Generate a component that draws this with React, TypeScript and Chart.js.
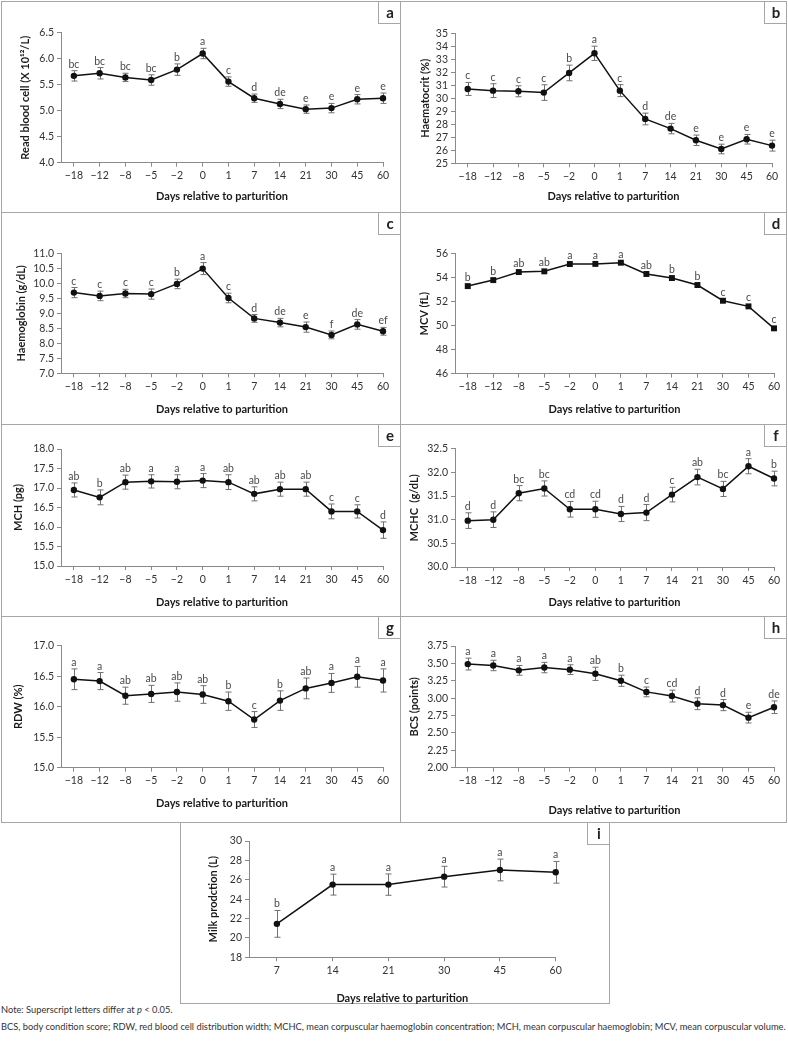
import React, { useEffect, useRef } from 'react';
import { Chart, registerables } from 'chart.js';
Chart.register(...registerables);

// ---------- DATA ----------
const days = ['−18', '−12', '−8', '−5', '−2', '0', '1', '7', '14', '21', '30', '45', '60'];
const milkDays = ['7', '14', '21', '30', '45', '60'];

const rbcMean = [5.67, 5.72, 5.64, 5.59, 5.79, 6.10, 5.56, 5.24, 5.13, 5.03, 5.05, 5.22, 5.24];
const rbcSem = [0.10, 0.11, 0.08, 0.10, 0.11, 0.10, 0.09, 0.08, 0.09, 0.08, 0.09, 0.09, 0.10];
const rbcLetters = ['bc', 'bc', 'bc', 'bc', 'b', 'a', 'c', 'd', 'de', 'e', 'e', 'e', 'e'];

const hctMean = [30.72, 30.59, 30.54, 30.44, 31.95, 33.46, 30.59, 28.41, 27.67, 26.77, 26.10, 26.85, 26.36];
const hctSem = [0.50, 0.53, 0.42, 0.60, 0.60, 0.55, 0.46, 0.45, 0.40, 0.40, 0.37, 0.37, 0.42];
const hctLetters = ['c', 'c', 'c', 'c', 'b', 'a', 'c', 'd', 'de', 'e', 'e', 'e', 'e'];

const hbMean = [9.69, 9.58, 9.66, 9.64, 9.98, 10.49, 9.51, 8.83, 8.69, 8.54, 8.28, 8.63, 8.40];
const hbSem = [0.17, 0.16, 0.14, 0.17, 0.16, 0.20, 0.16, 0.13, 0.14, 0.17, 0.13, 0.16, 0.13];
const hbLetters = ['c', 'c', 'c', 'c', 'b', 'a', 'c', 'd', 'de', 'e', 'f', 'de', 'ef'];

const mcvMean = [53.30, 53.80, 54.47, 54.53, 55.14, 55.15, 55.25, 54.31, 53.97, 53.39, 52.08, 51.61, 49.78];
const mcvLetters = ['b', 'b', 'ab', 'ab', 'a', 'a', 'a', 'ab', 'b', 'b', 'c', 'c', 'c'];

const mchMean = [16.95, 16.76, 17.15, 17.17, 17.16, 17.19, 17.15, 16.85, 16.97, 16.97, 16.40, 16.40, 15.92];
const mchSem = [0.18, 0.19, 0.18, 0.17, 0.18, 0.18, 0.19, 0.18, 0.18, 0.18, 0.19, 0.17, 0.21];
const mchLetters = ['ab', 'b', 'ab', 'a', 'a', 'a', 'ab', 'ab', 'ab', 'ab', 'c', 'c', 'd'];

const mchcMean = [30.98, 31.00, 31.56, 31.66, 31.22, 31.22, 31.12, 31.15, 31.53, 31.90, 31.65, 32.13, 31.87];
const mchcSem = [0.165, 0.165, 0.16, 0.16, 0.165, 0.17, 0.16, 0.17, 0.155, 0.165, 0.16, 0.16, 0.155];
const mchcLetters = ['d', 'd', 'bc', 'bc', 'cd', 'cd', 'd', 'd', 'c', 'ab', 'bc', 'a', 'b'];

const rdwMean = [16.45, 16.42, 16.18, 16.21, 16.24, 16.20, 16.09, 15.79, 16.10, 16.30, 16.39, 16.49, 16.43];
const rdwSem = [0.17, 0.14, 0.14, 0.14, 0.15, 0.145, 0.15, 0.13, 0.16, 0.17, 0.155, 0.17, 0.19];
const rdwLetters = ['a', 'a', 'ab', 'ab', 'ab', 'ab', 'b', 'c', 'b', 'ab', 'a', 'a', 'a'];

const bcsMean = [3.49, 3.47, 3.40, 3.44, 3.41, 3.35, 3.25, 3.09, 3.03, 2.92, 2.90, 2.72, 2.87];
const bcsSem = [0.085, 0.075, 0.07, 0.075, 0.07, 0.095, 0.08, 0.07, 0.085, 0.085, 0.08, 0.077, 0.09];
const bcsLetters = ['a', 'a', 'a', 'a', 'a', 'ab', 'b', 'c', 'cd', 'd', 'd', 'e', 'de'];

const milkMean = [21.45, 25.50, 25.50, 26.32, 27.01, 26.77];
const milkSem = [1.38, 1.08, 1.10, 1.07, 1.12, 1.12];
const milkLetters = ['b', 'a', 'a', 'a', 'a', 'a'];

// ---------- LAYOUT ----------
const FONT = 'Lato';
const panels: any[] = [
  { key: 'a', box: { x: 1, y: 1, w: 400, h: 212 }, area: { L: 61, R: 383, T: 32.7, B: 162.7 }, yTitleX: 25, xTitleY: 196,
    yTitle: 'Read blood cell (X 10¹²/L)', labels: days, mean: rbcMean, sem: rbcSem, letters: rbcLetters, yMin: 4, yMax: 6.5, yStep: 0.5, dec: 1, marker: 'circle' },
  { key: 'b', box: { x: 400, y: 1, w: 387, h: 212 }, area: { L: 455, R: 772, T: 33.3, B: 163.3 }, yTitleX: 425.7, xTitleY: 196,
    yTitle: 'Haematocrit (%)', labels: days, mean: hctMean, sem: hctSem, letters: hctLetters, yMin: 25, yMax: 35, yStep: 1, dec: 0, marker: 'circle' },
  { key: 'c', box: { x: 1, y: 212, w: 400, h: 213 }, area: { L: 61, R: 383, T: 253.3, B: 373.3 }, yTitleX: 21.7, xTitleY: 409,
    yTitle: 'Haemoglobin (g/dL)', labels: days, mean: hbMean, sem: hbSem, letters: hbLetters, yMin: 7, yMax: 11, yStep: 0.5, dec: 1, marker: 'circle' },
  { key: 'd', box: { x: 400, y: 212, w: 387, h: 213 }, area: { L: 455, R: 774, T: 253.7, B: 373.7 }, yTitleX: 424, xTitleY: 409,
    yTitle: 'MCV (fL)', labels: days, mean: mcvMean, sem: null, letters: mcvLetters, yMin: 46, yMax: 56, yStep: 2, dec: 0, marker: 'rect' },
  { key: 'e', box: { x: 1, y: 424, w: 400, h: 193 }, area: { L: 61, R: 383, T: 449, B: 566 }, yTitleX: 18.3, xTitleY: 602.7,
    yTitle: 'MCH (pg)', labels: days, mean: mchMean, sem: mchSem, letters: mchLetters, yMin: 15, yMax: 18, yStep: 0.5, dec: 1, marker: 'circle' },
  { key: 'f', box: { x: 400, y: 424, w: 387, h: 193 }, area: { L: 455, R: 774, T: 448.7, B: 567 }, yTitleX: 414, xTitleY: 602.7,
    yTitle: 'MCHC  (g/dL)', labels: days, mean: mchcMean, sem: mchcSem, letters: mchcLetters, yMin: 30, yMax: 32.5, yStep: 0.5, dec: 1, marker: 'circle' },
  { key: 'g', box: { x: 1, y: 616, w: 400, h: 207 }, area: { L: 61, R: 383, T: 645.7, B: 767.7 }, yTitleX: 18, xTitleY: 803.3,
    yTitle: 'RDW (%)', labels: days, mean: rdwMean, sem: rdwSem, letters: rdwLetters, yMin: 15, yMax: 17, yStep: 0.5, dec: 1, marker: 'circle' },
  { key: 'h', box: { x: 400, y: 616, w: 387, h: 207 }, area: { L: 455, R: 774, T: 646, B: 767.7 }, yTitleX: 414, xTitleY: 810,
    yTitle: 'BCS (points)', labels: days, mean: bcsMean, sem: bcsSem, letters: bcsLetters, yMin: 2, yMax: 3.75, yStep: 0.25, dec: 2, marker: 'circle' },
  { key: 'i', box: { x: 180, y: 822, w: 430, h: 182 }, area: { L: 249, R: 555.7, T: 841, B: 957.3 }, yTitleX: 213, xTitleY: 998,
    yTitle: 'Milk prodction (L)', labels: milkDays, mean: milkMean, sem: milkSem, letters: milkLetters, yMin: 18, yMax: 30, yStep: 2, dec: 0, marker: 'circle' },
];

const errPlugin = {
  id: 'errLetters',
  beforeDatasetsDraw(chart: any) {
    const ds = chart.data.datasets[0];
    const sem = ds.sem;
    if (!sem) return;
    const meta = chart.getDatasetMeta(0);
    const ys = chart.scales.y;
    const ctx = chart.ctx;
    ctx.save();
    ctx.strokeStyle = '#707070';
    ctx.lineWidth = 1;
    meta.data.forEach((pt: any, i: number) => {
      const v = ds.data[i].y;
      const x = Math.round(pt.x) + 0.5;
      const top = ys.getPixelForValue(v + sem[i]);
      const bot = ys.getPixelForValue(v - sem[i]);
      ctx.beginPath();
      ctx.moveTo(x, top); ctx.lineTo(x, bot);
      ctx.moveTo(x - 3, top); ctx.lineTo(x + 3, top);
      ctx.moveTo(x - 3, bot); ctx.lineTo(x + 3, bot);
      ctx.stroke();
    });
    ctx.restore();
  },
  afterDatasetsDraw(chart: any) {
    const ds = chart.data.datasets[0];
    const letters = ds.letters;
    if (!letters) return;
    const sem = ds.sem;
    const meta = chart.getDatasetMeta(0);
    const ys = chart.scales.y;
    const ctx = chart.ctx;
    ctx.save();
    ctx.fillStyle = '#4a4a4a';
    ctx.font = `10.5px ${FONT}`;
    ctx.textAlign = 'center';
    ctx.textBaseline = 'alphabetic';
    meta.data.forEach((pt: any, i: number) => {
      const v = ds.data[i].y;
      const y = sem ? ys.getPixelForValue(v + sem[i]) - 3 : pt.y - 5;
      ctx.fillText(letters[i], pt.x, y);
    });
    ctx.restore();
  },
};

function Panel({ p }: { p: any }) {
  const ref = useRef<HTMLCanvasElement | null>(null);
  useEffect(() => {
    const canvas = ref.current;
    if (!canvas) return;
    const TF = 11;
    const tlh = TF * 1.2;
    const padTop = p.area.T - p.box.y;
    const xBottom = p.xTitleY + tlh / 2;
    const padBottom = p.box.y + p.box.h - xBottom;
    const yWidth = p.area.L - p.box.x;
    const xHeight = xBottom - p.area.B;
    const padRight = p.box.x + p.box.w - p.area.R;
    const yTitlePad = p.yTitleX - p.box.x - tlh / 2;
    const axisColor = '#8a8a8a';
    const tickFont = { family: FONT, size: 10.5 };
    const titleFont = { family: FONT, size: TF, weight: 'bold' as const };
    const chart = new Chart(canvas, {
      type: 'line',
      data: {
        datasets: [{
          data: p.mean.map((v: number, i: number) => ({ x: i, y: v })),
          borderColor: '#111',
          borderWidth: 1.5,
          pointStyle: p.marker,
          pointRadius: p.marker === 'rect' ? 4.2 : 3.2,
          pointBackgroundColor: '#111',
          pointBorderColor: '#111',
          pointBorderWidth: 0,
          tension: 0,
          clip: false,
          sem: p.sem,
          letters: p.letters,
        } as any],
      },
      options: {
        animation: false,
        responsive: false,
        events: [],
        layout: { padding: { left: 0, top: padTop, right: padRight, bottom: padBottom } },
        plugins: { legend: { display: false }, tooltip: { enabled: false } },
        scales: {
          x: {
            type: 'linear',
            min: -0.5,
            max: p.labels.length - 1,
            afterBuildTicks: (s: any) => { s.ticks = p.labels.map((_: string, i: number) => ({ value: i })); },
            afterFit: (s: any) => { s.height = xHeight; },
            ticks: {
              callback: (v: any) => p.labels[v] ?? '',
              autoSkip: false, maxRotation: 0, minRotation: 0, padding: 3,
              color: '#333', font: tickFont,
            },
            grid: { drawOnChartArea: false, drawTicks: true, tickLength: 4, color: axisColor },
            border: { display: true, color: axisColor, width: 1 },
            title: { display: true, text: 'Days relative to parturition', font: titleFont, color: '#1a1a1a', padding: { top: 0, bottom: 0 } },
          },
          y: {
            type: 'linear',
            min: p.yMin,
            max: p.yMax,
            afterFit: (s: any) => { s.width = yWidth; },
            ticks: {
              stepSize: p.yStep,
              autoSkip: false,
              callback: (v: any) => Number(v).toFixed(p.dec),
              padding: 3, color: '#333', font: tickFont,
            },
            grid: { drawOnChartArea: false, drawTicks: true, tickLength: 4, color: axisColor },
            border: { display: true, color: axisColor, width: 1 },
            title: { display: true, text: p.yTitle, font: titleFont, color: '#1a1a1a', padding: { top: yTitlePad, bottom: 0 } },
          },
        },
      } as any,
      plugins: [errPlugin],
    });
    return () => chart.destroy();
  }, [p]);

  return (
    <>
      <div style={{
        position: 'absolute', left: p.box.x, top: p.box.y, width: p.box.w, height: p.box.h,
        boxSizing: 'border-box', border: '1px solid #a6a6a6',
      }} />
      <canvas ref={ref} width={p.box.w} height={p.box.h}
        style={{ position: 'absolute', left: p.box.x, top: p.box.y, width: p.box.w, height: p.box.h }} />
      <div style={{
        position: 'absolute', left: p.box.x + p.box.w - 23, top: p.box.y, width: 23, height: 23,
        boxSizing: 'border-box', borderLeft: '1px solid #a6a6a6', borderBottom: '1px solid #a6a6a6',
        fontFamily: FONT, fontWeight: 'bold', fontSize: 15, color: '#222',
        display: 'flex', alignItems: 'center', justifyContent: 'center', lineHeight: 1,
      }}>{p.key}</div>
    </>
  );
}

export default function App() {
  return (
    <div style={{ position: 'absolute', left: 0, top: 0, width: 788, height: 1041, background: '#fff', overflow: 'hidden' }}>
      {panels.map((p) => <Panel key={p.key} p={p} />)}
      <div style={{ position: 'absolute', left: 1, top: 1004, fontFamily: FONT, fontSize: 9.3, color: '#333', whiteSpace: 'nowrap' }}>
        Note: Superscript letters differ at <i>p</i> &lt; 0.05.
      </div>
      <div style={{ position: 'absolute', left: 1, top: 1021, fontFamily: FONT, fontSize: 9.3, color: '#333', whiteSpace: 'nowrap' }}>
        BCS, body condition score; RDW, red blood cell distribution width; MCHC, mean corpuscular haemoglobin concentration; MCH, mean corpuscular haemoglobin; MCV, mean corpuscular volume.
      </div>
    </div>
  );
}
